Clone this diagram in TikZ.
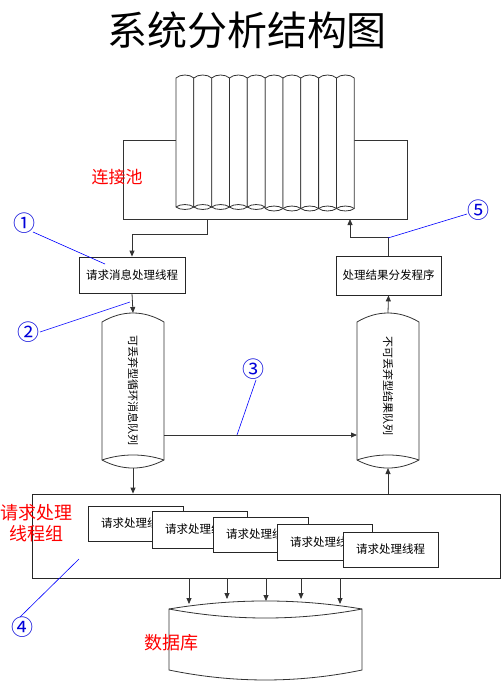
\documentclass[tikz,border=0pt]{standalone}
\usepackage{fontspec}
\setmainfont{Noto Sans CJK SC}
\usetikzlibrary{arrows.meta}
\tikzset{
  ln/.style={draw=black!80, line width=0.8pt},
  arr/.style={ln, -{Triangle[length=6pt,width=5pt]}},
  boxn/.style={draw=black!85, line width=0.8pt, fill=white, font=\fontsize{11.5}{13}\selectfont, inner sep=0pt},
  thr/.style={boxn, minimum width=95pt, minimum height=35pt},
  redt/.style={text=red, inner sep=0pt},
  circn/.style={text=blue!85!black, font=\fontsize{22}{24}\selectfont, inner sep=0pt},
  bl/.style={draw=blue, line width=0.6pt},
  qtext/.style={rotate=-90, font=\fontsize{11}{12}\selectfont, inner sep=0pt}
}
\begin{document}
\begin{tikzpicture}[x=1pt,y=-1pt]
\useasboundingbox (0,0) rectangle (501,681);
% title
\node[font=\fontsize{40}{42}\selectfont] (title) at (247,30) {系统分析结构图};
% connection pool
\draw[ln, fill=white] (123,140) rectangle (407,219);
\coordinate (poolL) at (207,219);
\coordinate (poolR) at (350,219);
\foreach \i in {0,...,9}{
  \pgfmathsetmacro{\xa}{176+17.83*\i}
  \pgfmathsetmacro{\xb}{176+17.83*(\i+1)}
  \pgfmathsetmacro{\yb}{\i<5 ? 207 : 208.5}
  \draw[ln, fill=white] (\xa,78) .. controls (\xa+4,74) and (\xb-4,74) .. (\xb,78)
     -- (\xb,\yb) .. controls (\xb-4,\yb+3.3) and (\xa+4,\yb+3.3) .. (\xa,\yb) -- cycle;
  \draw[ln] (\xa,\yb) .. controls (\xa+4,\yb-3.3) and (\xb-4,\yb-3.3) .. (\xb,\yb);
}
\node[redt, font=\fontsize{17}{19}\selectfont] (pooltxt) at (117,177) {连接池};
% request message thread
\node[boxn, minimum width=106pt, minimum height=36pt] (rq) at (132,275) {请求消息处理线程};
% left queue cylinder
\draw[ln, fill=white] (102,322) .. controls (122,310) and (144,310) .. (164,322)
   -- (164,460) .. controls (144,470.7) and (122,470.7) .. (102,460) -- cycle;
\draw[ln] (102,460) .. controls (122,453.3) and (144,453.3) .. (164,460);
\coordinate (lqT) at (133,313);
\coordinate (lqB) at (133,468);
\coordinate (lqR) at (164,435);
\node[qtext] (lqt) at (133,390) {可丢弃型循环消息队列};
% right queue cylinder
\draw[ln, fill=white] (357,322) .. controls (377,310) and (399,310) .. (419,322)
   -- (419,460) .. controls (399,470.7) and (377,470.7) .. (357,460) -- cycle;
\draw[ln] (357,460) .. controls (377,453.3) and (399,453.3) .. (419,460);
\coordinate (rqT) at (388,313);
\coordinate (rqB) at (388,468);
\coordinate (rqL) at (357,435);
\node[qtext] (rqt) at (388,386) {不可丢弃型结果队列};
% result dispatcher
\node[boxn, minimum width=105pt, minimum height=39pt] (disp) at (388.5,275.5) {处理结果分发程序};
% arrows
\draw[ln, {Triangle[length=6pt,width=5pt]}-] (rq.north) -- ++(0,-22) -| (poolL);
\draw[arr] (rq.south) -- (lqT);
\draw[arr] (rqT) -- (disp.south);
\draw[arr] (disp.north) -- ++(0,-18) -| (poolR);
\draw[arr] (lqR) -- (rqL);
% group box
\node[draw=black!85, line width=0.8pt, fill=white, minimum width=468pt, minimum height=84pt, inner sep=0pt] (grp) at (266,536) {};
\draw[arr] (lqB) -- (lqB |- grp.north);
\draw[arr] (rqB |- grp.north) -- (rqB);
\node[redt, font=\fontsize{18}{21}\selectfont, align=center] (grptxt) at (37,523) {请求处理\\线程组};
\node[thr, minimum height=35pt] (t1) at (135.5,523.5) {请求处理线程};
\node[thr, minimum height=37pt] (t2) at (199.5,529.5) {请求处理线程};
\node[thr, minimum height=35pt] (t3) at (260.5,534.5) {请求处理线程};
\node[thr, minimum height=36pt] (t4) at (324.5,542) {请求处理线程};
\node[thr, minimum height=35pt] (t5) at (390.5,549.5) {请求处理线程};
% database
\draw[ln, fill=white] (169,609) .. controls (233,598.3) and (298,598.3) .. (362,609)
  -- (362,670) .. controls (298,683.3) and (233,683.3) .. (169,670) -- cycle;
\draw[ln] (169,609) .. controls (233,621) and (298,621) .. (362,609);
\node[redt, font=\fontsize{18}{20}\selectfont] (dbt) at (171,643) {数据库};
\foreach \x/\y [count=\k] in {189/604, 227/599, 266/601, 301/599, 340/604}{
  \coordinate (db\k) at (\x,\y);
  \draw[arr] (db\k |- grp.south) -- (db\k);
}
% annotations
\node[circn] (c1) at (24,223) {①};
\node[circn] (c2) at (28,332) {②};
\node[circn] (c3) at (253,369) {③};
\node[circn] (c4) at (23,627) {④};
\node[circn] (c5) at (478,210) {⑤};
\coordinate (a1) at (105,264);
\coordinate (a2) at (130,302);
\coordinate (a3) at (237,435);
\coordinate (a4) at (79,559);
\coordinate (a5) at (388,238);
\draw[bl] (33,232) -- (a1);
\draw[bl] (40,332) -- (a2);
\draw[bl] (256,380) -- (a3);
\draw[bl] (20,617) -- (a4);
\draw[bl] (467,214) -- (a5);
\end{tikzpicture}
\end{document}
